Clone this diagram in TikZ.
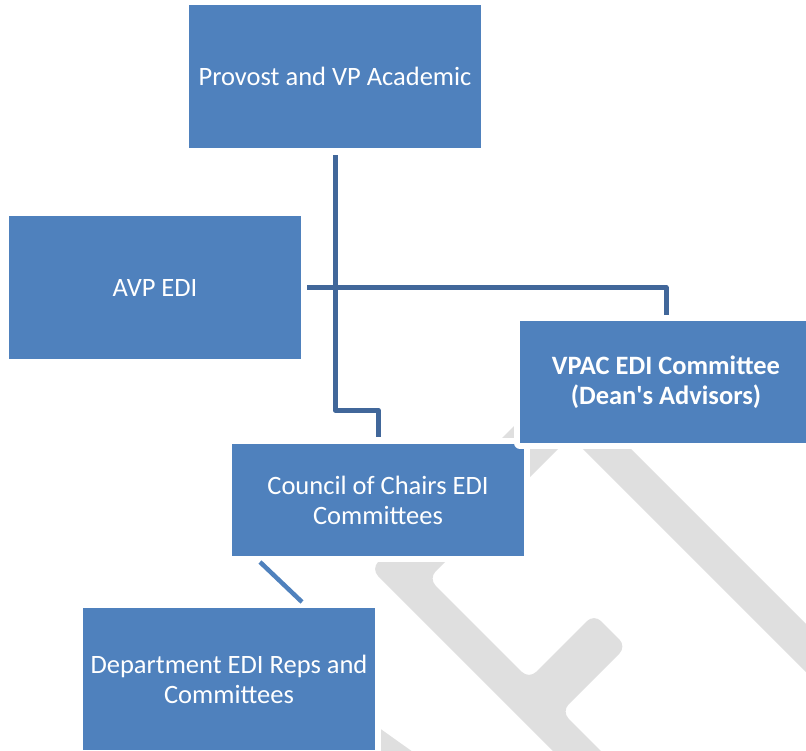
\documentclass[tikz,border=0pt]{standalone}
\usepackage{fontspec}
\setmainfont{Carlito}

\definecolor{boxblue}{HTML}{4F81BD}
\definecolor{linkblue}{HTML}{41679A}
\definecolor{markgrey}{HTML}{DFDFDF}

\begin{document}
\begin{tikzpicture}[x=1pt,y=-1pt,line join=round,
                    box node/.style={rectangle,fill=boxblue,text=white,minimum width=292pt,
                      inner sep=0pt,outer sep=0pt,align=center,
                      font=\fontsize{26.5}{30}\selectfont,
                      preaction={draw=white,line width=12pt}},
                    link/.style={draw=linkblue,line width=5pt},
                    diag link/.style={draw=boxblue,line width=4.5pt}]
  \useasboundingbox (0,0) rectangle (806,750);
  \clip (0,0) rectangle (806,750);
  % watermark behind the chart
  \fill[markgrey,rounded corners=10pt] (371,569) -- (610,330) -- (643.5,363.5) -- (428.5,578.5)
    -- (529,679) -- (594,614) -- (626.5,646.5) -- (561.5,711.5) -- (650,800) -- (602,800) -- cycle;
  \fill[markgrey] (537,403) -- (561,379) -- (1082,900) -- (1034,900) -- cycle;
  \fill[markgrey] (340,700) -- (420,757) -- (340,757) -- cycle;

  \node[box node,minimum height=143pt] (provost) at (335,76.5) {Provost and VP Academic};
  \node[box node,minimum height=143pt] (avp) at (155,287.5) {AVP EDI};
  \node[box node,minimum height=112pt] (council) at (378,500) {Council of Chairs EDI\\Committees};
  \node[box node,minimum height=122pt,font=\fontsize{26.5}{30}\selectfont\bfseries] (vpac) at (666,382)
    {VPAC EDI Committee\\(Dean\textquotesingle s Advisors)};
  \node[box node,minimum height=142pt] (dept) at (229,679) {Department EDI Reps and\\Committees};

  \draw[link] ([yshift=-7pt]provost.south) |- ([yshift=34pt]council.north) -- ([yshift=7pt]council.north);
  \draw[link] ([xshift=6pt]avp.east) -| ([yshift=6pt]vpac.north);
  \draw[diag link] ([xshift=28pt,yshift=-6pt]council.south west) -- ([xshift=219pt,yshift=6pt]dept.north west);
\end{tikzpicture}
\end{document}
